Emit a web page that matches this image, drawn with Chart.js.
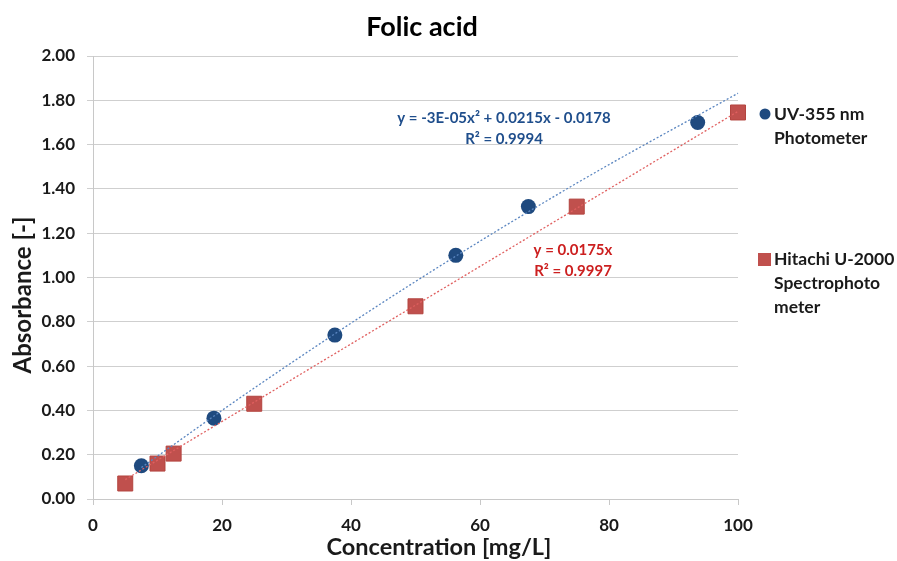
<!DOCTYPE html>
<html>
<head>
<meta charset="utf-8">
<script src="https://cdn.jsdelivr.net/npm/chart.js@4/dist/chart.umd.min.js"></script>
<style>
  html, body { margin: 0; padding: 0; background: #fff; }
  #wrap { width: 897px; height: 561px; }
</style>
</head>
<body>
<div id="wrap"><canvas id="chart" width="897" height="561"></canvas></div>
<script>
// ===============================
// Data
// ===============================
const uvConc = [7.5, 18.75, 37.5, 56.25, 67.5, 93.75];
const uvAbs = [0.15, 0.365, 0.74, 1.10, 1.32, 1.70];

const hitachiConc = [5, 10, 12.5, 25, 50, 75, 100];
const hitachiAbs = [0.07, 0.16, 0.205, 0.43, 0.87, 1.32, 1.745];

// trendline points
const uvTrendConc = [7.5, 25, 50, 75, 100];
const uvTrendAbs = [0.142, 0.501, 0.982, 1.426, 1.832];
const hitachiTrendConc = [5, 100];
const hitachiTrendAbs = [0.0875, 1.75];

const xTickValues = [0, 20, 40, 60, 80, 100];
const yTickValues = [0, 0.2, 0.4, 0.6, 0.8, 1.0, 1.2, 1.4, 1.6, 1.8, 2.0];

const seriesNames = [['UV-355 nm', 'Photometer'], ['Hitachi U-2000', 'Spectrophoto', 'meter']];
const uvEquation = ['y = -3E-05x\u00B2 + 0.0215x - 0.0178', 'R\u00B2 = 0.9994'];
const hitachiEquation = ['y = 0.0175x', 'R\u00B2 = 0.9997'];

const FONT = 'Lato, "Open Sans", sans-serif';
const BLUE = '#1f4a7f';
const RED = '#c0504d';

const toPoints = (xs, ys) => xs.map((x, i) => ({ x: x, y: ys[i] }));

// ------------------------------
// Titles, side legend and trendline equations
// ------------------------------
const annotations = {
  id: 'annotations',
  afterDraw(chart) {
    const ctx = chart.ctx;
    ctx.save();
    ctx.textBaseline = 'middle';
    ctx.textAlign = 'center';

    // chart title
    ctx.font = 'bold 27px ' + FONT;
    ctx.fillStyle = '#000';
    ctx.fillText('Folic acid', 422, 27);

    // axis titles
    ctx.font = 'bold 23.5px ' + FONT;
    ctx.fillStyle = '#1a1a1a';
    ctx.fillText('Concentration [mg/L]', 439, 547);
    ctx.save();
    ctx.translate(23, 295);
    ctx.rotate(-Math.PI / 2);
    ctx.font = 'bold 24px ' + FONT;
    ctx.fillText('Absorbance [-]', 0, 0);
    ctx.restore();

    // equations
    ctx.font = 'bold 15px ' + FONT;
    ctx.fillStyle = '#1f4e8c';
    ctx.fillText(uvEquation[0], 504, 118);
    ctx.fillText(uvEquation[1], 504, 139);
    ctx.fillStyle = '#cc1f1f';
    ctx.fillText(hitachiEquation[0], 573, 250);
    ctx.fillText(hitachiEquation[1], 573, 271);

    // legend
    ctx.font = 'bold 17.5px ' + FONT;
    ctx.textAlign = 'left';
    ctx.fillStyle = '#1a1a1a';
    seriesNames[0].forEach((t, i) => ctx.fillText(t, 774, 114 + i * 24));
    seriesNames[1].forEach((t, i) => ctx.fillText(t, 774, 259 + i * 24));

    ctx.fillStyle = BLUE;
    ctx.beginPath();
    ctx.arc(765, 114, 5.5, 0, Math.PI * 2);
    ctx.fill();
    ctx.fillStyle = RED;
    ctx.fillRect(758, 253, 13, 13);
    ctx.restore();
  }
};

const ctx = document.getElementById('chart').getContext('2d');
new Chart(ctx, {
  type: 'scatter',
  data: {
    datasets: [
      {
        label: 'UV trend',
        data: toPoints(uvTrendConc, uvTrendAbs),
        showLine: true,
        cubicInterpolationMode: 'monotone',
        borderColor: '#5b86c0',
        borderWidth: 1.3,
        borderDash: [2, 2],
        pointRadius: 0,
        clip: false
      },
      {
        label: 'Hitachi trend',
        data: toPoints(hitachiTrendConc, hitachiTrendAbs),
        showLine: true,
        borderColor: '#e06060',
        borderWidth: 1.3,
        borderDash: [2, 2],
        pointRadius: 0,
        clip: false
      },
      {
        label: seriesNames[0].join(' '),
        data: toPoints(uvConc, uvAbs),
        pointStyle: 'circle',
        pointRadius: 7.5,
        backgroundColor: BLUE,
        borderColor: BLUE,
        borderWidth: 0,
        clip: false
      },
      {
        label: seriesNames[1].join(''),
        data: toPoints(hitachiConc, hitachiAbs),
        pointStyle: 'rect',
        pointRadius: 10.6,
        backgroundColor: RED,
        borderColor: '#b3443f',
        borderWidth: 1,
        clip: false
      }
    ]
  },
  options: {
    responsive: false,
    animation: false,
    layout: { padding: { top: 56, right: 159, bottom: 0, left: 0 } },
    plugins: {
      legend: { display: false },
      tooltip: { enabled: false },
      title: { display: false }
    },
    scales: {
      x: {
        type: 'linear',
        min: 0,
        max: 100,
        afterBuildTicks: s => { s.ticks = xTickValues.map(v => ({ value: v })); },
        afterFit: s => { s.height = 62; },
        grid: { drawOnChartArea: false, drawTicks: true, tickLength: 6, color: '#c8c8c8' },
        border: { color: '#c8c8c8' },
        ticks: { font: { family: FONT, size: 17, weight: 'bold' }, color: '#1a1a1a', padding: 10 },
        title: { display: false }
      },
      y: {
        type: 'linear',
        min: 0,
        max: 2,
        afterBuildTicks: s => { s.ticks = yTickValues.map(v => ({ value: v })); },
        afterFit: s => { s.width = 93; },
        grid: { color: '#cfcfcf', tickLength: 6, lineWidth: 1 },
        border: { color: '#c8c8c8' },
        ticks: {
          font: { family: FONT, size: 17, weight: 'bold' },
          color: '#1a1a1a',
          padding: 12,
          callback: v => v.toFixed(2)
        },
        title: { display: false }
      }
    }
  },
  plugins: [annotations]
});
</script>
</body>
</html>
